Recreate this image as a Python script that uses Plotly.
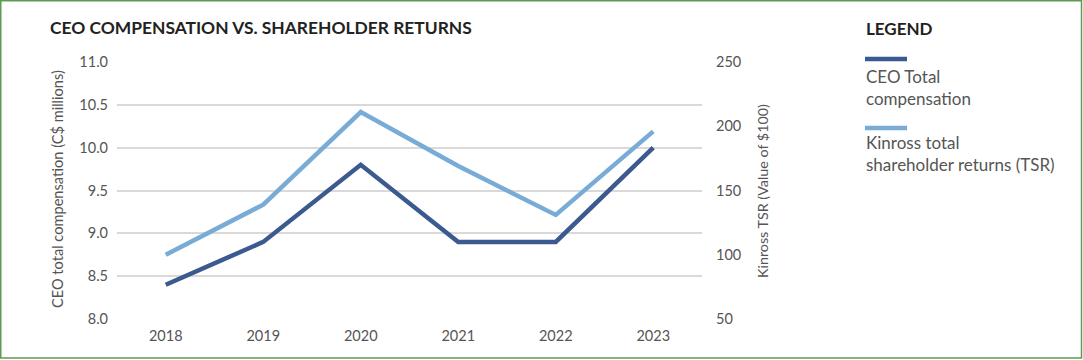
import plotly.graph_objects as go

years = ["2018", "2019", "2020", "2021", "2022", "2023"]
ceo_comp = [8.4, 8.9, 9.8, 8.9, 8.9, 10.0]
tsr = [100, 139, 211, 169, 131, 196]
left_ticks = [8.0, 8.5, 9.0, 9.5, 10.0, 10.5, 11.0]
right_ticks = [50, 100, 150, 200, 250]

DARK = "#3b5a8f"
LIGHT = "#78acd6"
FONT = "Lato"
W, H = 1083, 360
L, R, T, B = 117, 702, 62, 319

def px(p):
    return (p - L) / (R - L)

def py(p):
    return (B - p) / (B - T)

fig = go.Figure()
fig.add_trace(go.Scatter(x=years, y=ceo_comp, mode="lines", line=dict(color=DARK, width=4.5),
                         name="CEO Total compensation", yaxis="y"))
fig.add_trace(go.Scatter(x=years, y=tsr, mode="lines", line=dict(color=LIGHT, width=4.5),
                         name="Kinross total shareholder returns (TSR)", yaxis="y2"))

TICKF = dict(size=14.5, color="#555555")
fig.update_layout(
    width=W, height=H,
    margin=dict(l=L, r=W - R, t=T, b=H - B),
    paper_bgcolor="white", plot_bgcolor="white",
    showlegend=False,
    font=dict(family=FONT, color="#555555", size=13),
    xaxis=dict(type="category", range=[-0.5, 5.5], showgrid=False, showline=False, zeroline=False,
               tickfont=TICKF, ticks="", ticklabelstandoff=6),
    yaxis=dict(range=[8, 11], tickvals=left_ticks, tickformat=".1f", showgrid=True,
               gridcolor="#d9d9d9", gridwidth=1.5, zeroline=False, showline=False,
               tickfont=TICKF, ticks="", ticklabelstandoff=8),
    yaxis2=dict(range=[50, 250], tickvals=right_ticks, overlaying="y", side="right",
                showgrid=False, zeroline=False, showline=False,
                tickfont=TICKF, ticks="", ticklabelstandoff=13),
)

annotations = [
    dict(text="<b>CEO COMPENSATION VS. SHAREHOLDER RETURNS</b>", x=px(48), y=py(27),
         xanchor="left", yanchor="middle", font=dict(size=17.4, color="#222222")),
    dict(text="CEO total compensation (C$ millions)", x=px(57), y=py(189), textangle=-90,
         xanchor="center", yanchor="middle", font=dict(size=14.6, color="#555555")),
    dict(text="Kinross TSR (Value of $100)", x=px(762), y=py(191), textangle=-90,
         xanchor="center", yanchor="middle", font=dict(size=14.3, color="#555555")),
    dict(text="<b>LEGEND</b>", x=px(864), y=py(28), xanchor="left", yanchor="middle",
         font=dict(size=17, color="#222222")),
    dict(text="CEO Total<br>compensation", x=px(864), y=py(87), xanchor="left", yanchor="middle",
         align="left", font=dict(size=17, color="#555555")),
    dict(text="Kinross total<br>shareholder returns (TSR)", x=px(864), y=py(153), xanchor="left",
         yanchor="middle", align="left", font=dict(size=17, color="#555555")),
]
for a in annotations:
    a.update(xref="paper", yref="paper", showarrow=False)
fig.update_layout(annotations=annotations)

shapes = [
    dict(type="line", x0=px(865), x1=px(907), y0=py(59), y1=py(59),
         line=dict(color=DARK, width=4.5)),
    dict(type="line", x0=px(865), x1=px(907), y0=py(128), y1=py(128),
         line=dict(color=LIGHT, width=4.5)),
    dict(type="rect", x0=px(0.75), x1=px(1081.5), y0=py(0.75), y1=py(358),
         line=dict(color="#5e9a50", width=1.5)),
]
for s in shapes:
    s.update(xref="paper", yref="paper", layer="above")
fig.update_layout(shapes=shapes)

fig.write_html("out.html")
